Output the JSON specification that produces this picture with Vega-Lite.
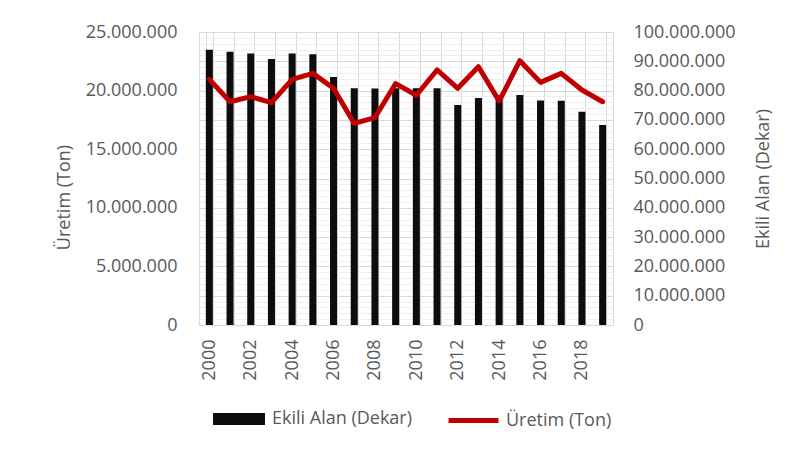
{
  "$schema": "https://vega.github.io/schema/vega-lite/v6.json",
  "width": 414,
  "height": 293,
  "autosize": {"type": "none"},
  "padding": {"left": 199, "top": 32, "right": 187, "bottom": 134},
  "background": "white",
  "config": {
    "locale": {"number": {"decimal": ",", "thousands": ".", "grouping": [3], "currency": ["", ""]}},
    "font": "Open Sans",
    "view": {"stroke": "#d9d9d9"},
    "axis": {
      "labelFont": "Open Sans", "labelFontSize": 18, "labelColor": "#595959",
      "titleFont": "Open Sans", "titleFontSize": 18, "titleColor": "#595959", "titleFontWeight": "normal",
      "ticks": false, "domain": false
    },
    "legend": {"labelFont": "Open Sans", "labelFontSize": 18, "labelColor": "#595959", "padding": 0, "labelOffset": 7}
  },
  "data": {
    "values": [
      {"Yil": 2000, "EkiliAlan": 93900000, "Uretim": 20960000},
      {"Yil": 2001, "EkiliAlan": 93300000, "Uretim": 19050000},
      {"Yil": 2002, "EkiliAlan": 92700000, "Uretim": 19480000},
      {"Yil": 2003, "EkiliAlan": 90800000, "Uretim": 18970000},
      {"Yil": 2004, "EkiliAlan": 92700000, "Uretim": 20960000},
      {"Yil": 2005, "EkiliAlan": 92400000, "Uretim": 21470000},
      {"Yil": 2006, "EkiliAlan": 84600000, "Uretim": 20200000},
      {"Yil": 2007, "EkiliAlan": 80800000, "Uretim": 17200000},
      {"Yil": 2008, "EkiliAlan": 80700000, "Uretim": 17700000},
      {"Yil": 2009, "EkiliAlan": 80800000, "Uretim": 20600000},
      {"Yil": 2010, "EkiliAlan": 80800000, "Uretim": 19600000},
      {"Yil": 2011, "EkiliAlan": 80800000, "Uretim": 21760000},
      {"Yil": 2012, "EkiliAlan": 75100000, "Uretim": 20200000},
      {"Yil": 2013, "EkiliAlan": 77500000, "Uretim": 22040000},
      {"Yil": 2014, "EkiliAlan": 78500000, "Uretim": 19100000},
      {"Yil": 2015, "EkiliAlan": 78500000, "Uretim": 22550000},
      {"Yil": 2016, "EkiliAlan": 76600000, "Uretim": 20700000},
      {"Yil": 2017, "EkiliAlan": 76500000, "Uretim": 21470000},
      {"Yil": 2018, "EkiliAlan": 72800000, "Uretim": 20050000},
      {"Yil": 2019, "EkiliAlan": 68300000, "Uretim": 19050000}
    ]
  },
  "layer": [
    {
      "mark": {"type": "bar", "color": "#0d0d0d"},
      "encoding": {
        "x": {
          "field": "Yil", "type": "ordinal",
          "scale": {"paddingInner": 0.66, "paddingOuter": 0.33},
          "axis": {
            "title": null, "labelAngle": -90, "labelAlign": "right", "labelBaseline": "middle",
            "labelPadding": 14,
            "labelExpr": "datum.value % 2 == 0 ? datum.label : ''",
            "grid": true, "tickBand": "extent", "gridColor": "#d9d9d9",
            "domain": true, "domainColor": "#d9d9d9"
          }
        },
        "y": {
          "field": "EkiliAlan", "type": "quantitative",
          "scale": {"domain": [0, 100000000]},
          "axis": {
            "orient": "right", "title": "Ekili Alan (Dekar)",
            "values": [0, 10000000, 20000000, 30000000, 40000000, 50000000, 60000000, 70000000, 80000000, 90000000, 100000000],
            "format": ",.0f", "grid": false, "labelPadding": 20,
            "titleAngle": 270, "titlePadding": 37
          }
        },
        "fill": {
          "datum": "Ekili Alan (Dekar)",
          "scale": {"range": ["#0d0d0d"]},
          "legend": {
            "title": null, "orient": "none", "legendX": 14, "legendY": 361,
            "symbolType": "M-1,-0.23H1V0.23H-1Z", "symbolSize": 2704, "symbolStrokeWidth": 0
          }
        }
      }
    },
    {
      "mark": {"type": "line", "strokeWidth": 5, "strokeJoin": "round", "strokeCap": "round"},
      "encoding": {
        "x": {"field": "Yil", "type": "ordinal"},
        "y": {
          "field": "Uretim", "type": "quantitative",
          "scale": {"domain": [0, 25000000]},
          "axis": {
            "orient": "left", "title": "Üretim (Ton)",
            "values": [0, 500000, 1000000, 1500000, 2000000, 2500000, 3000000, 3500000, 4000000, 4500000, 5000000, 5500000, 6000000, 6500000, 7000000, 7500000, 8000000, 8500000, 9000000, 9500000, 10000000, 10500000, 11000000, 11500000, 12000000, 12500000, 13000000, 13500000, 14000000, 14500000, 15000000, 15500000, 16000000, 16500000, 17000000, 17500000, 18000000, 18500000, 19000000, 19500000, 20000000, 20500000, 21000000, 21500000, 22000000, 22500000, 23000000, 23500000, 24000000, 24500000, 25000000],
            "format": ",.0f",
            "labelExpr": "datum.value % 5000000 == 0 ? datum.label : ''",
            "grid": true,
            "gridColor": {"condition": {"test": "datum.value % 2500000 == 0", "value": "#d9d9d9"}, "value": "#eeeeee"},
            "labelPadding": 22, "titlePadding": 12, "titleY": 165
          }
        },
        "stroke": {
          "datum": "Üretim (Ton)",
          "scale": {"range": ["#c00000"]},
          "legend": {
            "title": null, "orient": "none", "legendX": 247, "legendY": 361,
            "symbolType": "stroke", "symbolSize": 2500, "symbolStrokeWidth": 5, "labelOffset": 5
          }
        }
      }
    }
  ],
  "resolve": {"scale": {"y": "independent", "fill": "independent", "stroke": "independent"}}
}
